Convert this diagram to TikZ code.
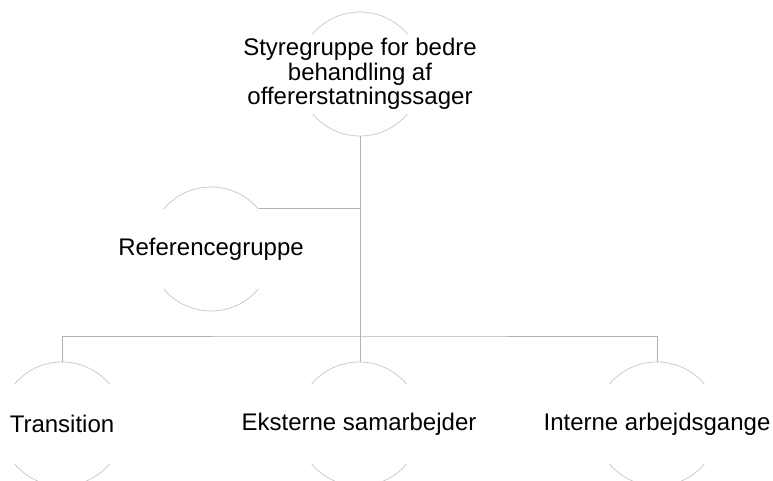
\documentclass[tikz,border=0pt]{standalone}
\usepackage{fontspec}
\setmainfont{Liberation Sans}
\tikzset{
  ring/.style={circle, draw=gray!45, line width=0.7pt, minimum size=124pt, inner sep=0pt},
  label box/.style={fill=white, inner sep=0pt, minimum width=132pt, minimum height=80pt,
    align=center, font=\fontsize{24}{24.5}\selectfont},
  link/.style={draw=gray!60, line width=1pt}
}
\begin{document}
\begin{tikzpicture}[x=1pt,y=-1pt]
\useasboundingbox (0,0) rectangle (773,481);
% draw the circles
\node[ring] (sty) at (360,74) {};
\node[ring] (ref) at (211,249) {};
\node[ring] (trn) at (62,424) {};
\node[ring] (eks) at (359,424) {};
\node[ring] (int) at (657,424) {};

% draw nodes to add the texts
\node[label box] (styT) at (sty) {Styregruppe for bedre\\behandling af\\offererstatningssager};
\node[label box] (refT) at (ref) {Referencegruppe};
\node[label box] (trnT) at (trn) {Transition};
\node[label box] (eksT) at (eks) {Eksterne samarbejder};
\node[label box] (intT) at (int) {Interne arbejdsgange};

% draw the connectors
\coordinate (bus) at (360,336);
\draw[link] (sty.south) -- (sty.south |- eks.north);
\draw[link] (ref.40) -- (ref.40 -| sty.south);
\draw[link] (trn.north) |- (bus) -| (int.north);
\end{tikzpicture}
\end{document}
